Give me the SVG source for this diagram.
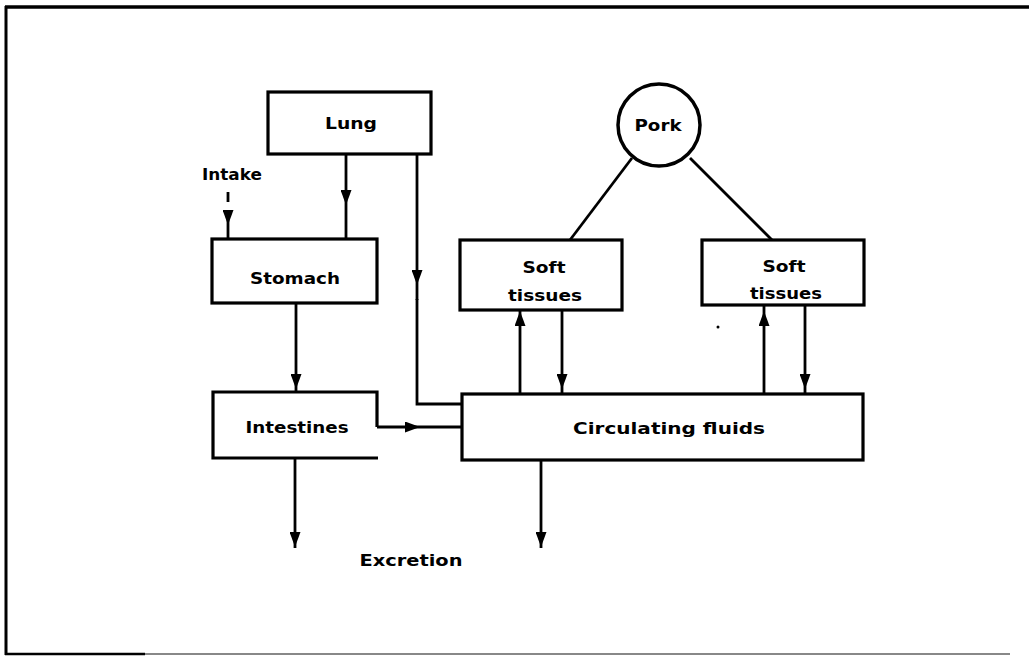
<svg xmlns="http://www.w3.org/2000/svg" width="1029" height="659" viewBox="0 0 1029 659">
<style>
.box{fill:#fff;stroke:#000;stroke-width:3.2}
.ln{fill:none;stroke:#000;stroke-width:2.8;stroke-linejoin:miter}
.arr{fill:none;stroke:#000;stroke-width:2.8;marker-mid:url(#ah)}
.t{font-family:"DejaVu Sans","Liberation Sans",sans-serif;font-weight:bold;font-size:15px;fill:#000;text-anchor:middle}
</style>
<defs>
<marker id="ah" markerUnits="userSpaceOnUse" viewBox="0 0 15 11" refX="15" refY="5.5" markerWidth="15" markerHeight="11" orient="auto">
<path d="M0,0 L15,5.5 L0,11 Z" fill="#000"/>
</marker>
</defs>
<rect width="1029" height="659" fill="#fff"/>
<g id="frame">
<path d="M5,7 H1029" stroke="#000" stroke-width="3.5" fill="none"/>
<path d="M6,6 V655" stroke="#000" stroke-width="3" fill="none"/>
<path d="M5,654 H145" stroke="#000" stroke-width="2.5" fill="none"/>
<path d="M145,654 H1010" stroke="#888" stroke-width="2" fill="none"/>
</g>
<g id="connectors">
<path class="arr" d="M346,154 L346,205 L346,239"/>
<path class="ln" d="M228,192 V202"/>
<path class="arr" d="M228,211 L228,225 L228,239"/>
<path class="arr" d="M417,154 L417,285 L417,300"/>
<path class="ln" d="M417,299 V404 H462"/>
<path class="arr" d="M296,303 L296,389 L296,392"/>
<path class="arr" d="M377,427 L420,427 L462,427"/>
<path class="ln" d="M632,158 L570,240"/>
<path class="ln" d="M690,158 L772,240"/>
<path class="arr" d="M520,393 L520,311 L520,310"/>
<path class="arr" d="M562,310 L562,389 L562,393"/>
<path class="arr" d="M764,393 L764,311 L764,305"/>
<path class="arr" d="M805,305 L805,389 L805,393"/>
<path class="arr" d="M295,458 L295,547 L295,548"/>
<path class="arr" d="M541,460 L541,547 L541,548"/>
</g>
<g id="lung">
<rect class="box" x="268" y="92" width="163" height="62"/>
<text class="t" x="351" y="129" textLength="52" lengthAdjust="spacingAndGlyphs">Lung</text>
</g>
<g id="intake">
<text class="t" x="232" y="180" font-size="14" textLength="60" lengthAdjust="spacingAndGlyphs">Intake</text>
</g>
<g id="stomach">
<rect class="box" x="212" y="239" width="165" height="64"/>
<text class="t" x="295" y="284" textLength="90" lengthAdjust="spacingAndGlyphs">Stomach</text>
</g>
<g id="intestines">
<path class="box" d="M377,427 V392 H213 V458 H378" style="fill:#fff"/>
<text class="t" x="297" y="433" textLength="103" lengthAdjust="spacingAndGlyphs">Intestines</text>
</g>
<g id="pork">
<circle cx="659" cy="125" r="41" fill="#fff" stroke="#000" stroke-width="3.5"/>
<text class="t" x="658" y="131" textLength="47" lengthAdjust="spacingAndGlyphs">Pork</text>
</g>
<g id="soft1">
<rect class="box" x="460" y="240" width="162" height="70"/>
<text class="t" x="544" y="273" textLength="43" lengthAdjust="spacingAndGlyphs">Soft</text>
<text class="t" x="545" y="301" textLength="74" lengthAdjust="spacingAndGlyphs">tissues</text>
</g>
<g id="soft2">
<rect class="box" x="702" y="240" width="162" height="65"/>
<text class="t" x="784" y="272" textLength="43" lengthAdjust="spacingAndGlyphs">Soft</text>
<text class="t" x="786" y="299" textLength="72" lengthAdjust="spacingAndGlyphs">tissues</text>
</g>
<g id="circulating">
<rect class="box" x="462" y="394" width="401" height="66"/>
<text class="t" x="669" y="434" textLength="192" lengthAdjust="spacingAndGlyphs">Circulating fluids</text>
</g>
<g id="excretion">
<text class="t" x="411" y="566" textLength="103" lengthAdjust="spacingAndGlyphs">Excretion</text>
</g>
<circle cx="718" cy="327" r="1.5" fill="#000"/>
</svg>
